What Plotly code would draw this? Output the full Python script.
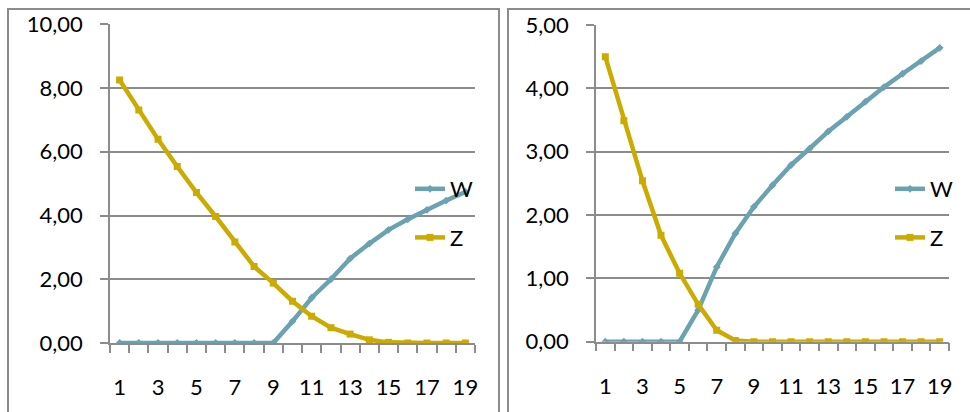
import plotly.graph_objects as go

# Categories 1..19 shared by both panels
categories = list(range(1, 20))

# Left panel series
w_left = [0, 0, 0, 0, 0, 0, 0, 0, 0, 0.68, 1.42, 2.0, 2.65, 3.12, 3.55, 3.88, 4.18, 4.47, 4.74]
z_left = [8.25, 7.31, 6.39, 5.54, 4.72, 3.97, 3.17, 2.40, 1.88, 1.31, 0.84, 0.48, 0.28, 0.10, 0.02, 0, 0, 0, 0]

# Right panel series
w_right = [0, 0, 0, 0, 0, 0.50, 1.18, 1.71, 2.13, 2.47, 2.79, 3.05, 3.32, 3.55, 3.79, 4.02, 4.23, 4.43, 4.64]
z_right = [4.50, 3.49, 2.54, 1.68, 1.08, 0.59, 0.18, 0.02, 0, 0, 0, 0, 0, 0, 0, 0, 0, 0, 0]

x_ticklabels = [str(c) for c in categories if c % 2 == 1]

W_COLOR = "#6aa2b2"
Z_COLOR = "#ccab00"
GRID = "#8c8c8c"
FONT = dict(family="Lato, Open Sans, sans-serif", size=22, color="#000000")

W_PX, H_PX = 970, 412


def px_x(v):
    return v / W_PX


def px_y(v):
    return 1 - v / H_PX


fig = go.Figure()

panels = [
    dict(xa="x", ya="y", w=w_left, z=z_left, legend="legend"),
    dict(xa="x2", ya="y2", w=w_right, z=z_right, legend="legend2"),
]

for i, p in enumerate(panels):
    fig.add_trace(go.Scatter(
        x=categories, y=p["w"], name="W", mode="lines+markers",
        xaxis=p["xa"], yaxis=p["ya"], legend=p["legend"], legendgroup=f"w{i}",
        line=dict(color=W_COLOR, width=4.5),
        marker=dict(symbol="diamond", size=6, color=W_COLOR),
    ))
    fig.add_trace(go.Scatter(
        x=categories, y=p["z"], name="Z", mode="lines+markers",
        xaxis=p["xa"], yaxis=p["ya"], legend=p["legend"], legendgroup=f"z{i}",
        line=dict(color=Z_COLOR, width=4.5),
        marker=dict(symbol="square", size=7, color=Z_COLOR),
    ))

xaxis_common = dict(
    range=[0.5, 19.5], tickvals=[c for c in categories if c % 2 == 1],
    ticktext=x_ticklabels, ticks="", showgrid=False, zeroline=False,
    showline=True, linecolor=GRID, linewidth=1.5, tickfont=FONT,
    ticklabelstandoff=24, automargin=False,
    minor=dict(tickvals=[c - 0.5 for c in categories] + [19.5], ticks="outside",
               ticklen=8, tickwidth=1.5, tickcolor=GRID, showgrid=False),
)
yaxis_common = dict(
    tickformat=".2f", ticks="outside", ticklen=8, tickwidth=1.5, tickcolor=GRID,
    showgrid=True, gridcolor=GRID, gridwidth=1.5, zeroline=False,
    showline=True, linecolor=GRID, linewidth=1.5, tickfont=FONT,
    ticklabelstandoff=13, automargin=False,
)

fig.update_layout(
    width=W_PX, height=H_PX,
    margin=dict(l=0, r=0, t=0, b=0, autoexpand=False),
    paper_bgcolor="white", plot_bgcolor="white",
    separators=",.",
    font=FONT,
    xaxis=dict(domain=[px_x(110), px_x(475)], anchor="y", **xaxis_common),
    yaxis=dict(domain=[px_y(343), px_y(24.3)], anchor="x", range=[0, 10], dtick=2, **yaxis_common),
    xaxis2=dict(domain=[px_x(596), px_x(949)], anchor="y2", **xaxis_common),
    yaxis2=dict(domain=[px_y(341.7), px_y(25)], anchor="x2", range=[0, 5], dtick=1, **yaxis_common),
    legend=dict(x=px_x(410), y=px_y(168), xanchor="left", yanchor="top",
                bgcolor="rgba(0,0,0,0)", traceorder="grouped", tracegroupgap=17,
                font=FONT, itemwidth=30),
    legend2=dict(x=px_x(890), y=px_y(168), xanchor="left", yanchor="top",
                 bgcolor="rgba(0,0,0,0)", traceorder="grouped", tracegroupgap=17,
                 font=FONT, itemwidth=30),
    shapes=[
        dict(type="rect", xref="paper", yref="paper",
             x0=px_x(8), x1=px_x(499), y0=px_y(420), y1=px_y(9),
             line=dict(color=GRID, width=2), layer="below"),
        dict(type="rect", xref="paper", yref="paper",
             x0=px_x(508), x1=px_x(980), y0=px_y(420), y1=px_y(9),
             line=dict(color=GRID, width=2), layer="below"),
    ],
)

fig.write_html("out.html")
